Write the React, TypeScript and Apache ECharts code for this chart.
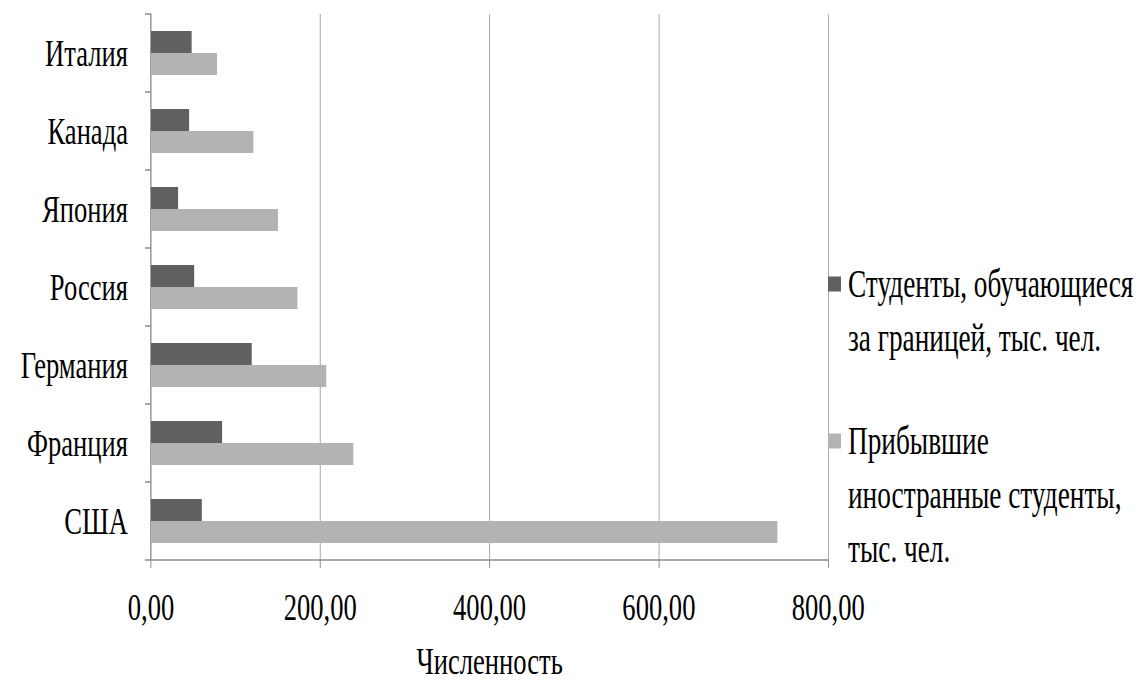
import React, { useEffect, useRef } from "react";
import * as echarts from "echarts";

const categories = ["США", "Франция", "Германия", "Россия", "Япония", "Канада", "Италия"];
const seriesNames = [
  "Студенты, обучающиеся\nза границей, тыс. чел.",
  "Прибывшие\nиностранные студенты,\nтыс. чел.",
];
const studyingAbroad = [60, 84, 119, 51, 32, 45, 48];
const arrivedForeign = [740, 239, 207, 173, 150, 121, 78];
const xTicks = { min: 0, max: 800, interval: 200 };
const axisName = "Численность";

const S = 0.7; // horizontal squeeze of the whole picture
const W = 1145 / S;
const H = 685;
const FONT = "Liberation Serif";
const LH = 54;

export default function App() {
  const ref = useRef<HTMLDivElement>(null);
  useEffect(() => {
    document.body.style.margin = "0";
    const chart = echarts.init(ref.current!, null, { renderer: "svg" });
    const textBase = { fontFamily: FONT, fontSize: 38, color: "#000" };
    const legendBase = {
      orient: "vertical",
      left: 828 / S,
      padding: 0,
      itemWidth: 13 / S,
      itemHeight: 15,
      icon: "rect",
      symbolKeepAspect: false,
      textStyle: { ...textBase, fontSize: 39, lineHeight: LH, padding: [0, 0, 0, 5] },
    };
    chart.setOption({
      animation: false,
      backgroundColor: "#fff",
      grid: { left: 151 / S, right: 317 / S, top: 14, bottom: 119, containLabel: false },
      xAxis: {
        type: "value",
        min: xTicks.min,
        max: xTicks.max,
        interval: xTicks.interval,
        name: axisName,
        nameLocation: "middle",
        nameGap: 82,
        nameMoveOverlap: false,
        nameTextStyle: { ...textBase },
        axisLine: { show: true, lineStyle: { color: "#8c8c8c", width: 1.5 } },
        axisTick: { show: true, length: 8, lineStyle: { color: "#8c8c8c", width: 1.4 } },
        axisLabel: {
          ...textBase,
          margin: 28,
          formatter: (v: number) => v.toFixed(2).replace(".", ","),
        },
        splitLine: { show: true, lineStyle: { color: "#a6a6a6", width: 1.4 } },
      },
      yAxis: {
        type: "category",
        data: categories,
        boundaryGap: true,
        axisLine: { show: true, lineStyle: { color: "#8c8c8c", width: 1.4 } },
        axisTick: { show: true, length: 6 / S, lineStyle: { color: "#8c8c8c", width: 1.5 } },
        axisLabel: { ...textBase, margin: 23 / S },
        splitLine: { show: false },
      },
      legend: [
        {
          ...legendBase,
          top: 284 - 1.5 * LH,
          data: [seriesNames[0]],
          formatter: (n: string) => "\n" + n,
        },
        {
          ...legendBase,
          top: 441 - 2.5 * LH,
          data: [seriesNames[1]],
          formatter: (n: string) => "\n\n" + n,
        },
      ],
      series: [
        {
          name: seriesNames[0],
          type: "bar",
          data: studyingAbroad,
          barWidth: 22,
          barGap: "0%",
          itemStyle: { color: "#606060" },
        },
        {
          name: seriesNames[1],
          type: "bar",
          data: arrivedForeign,
          barWidth: 22,
          barGap: "0%",
          itemStyle: { color: "#b3b3b3" },
        },
      ],
    });
    return () => chart.dispose();
  }, []);
  return (
    <div style={{ width: 1145, height: 685, overflow: "hidden", position: "relative" }}>
      <div
        ref={ref}
        style={{
          width: W,
          height: H,
          position: "absolute",
          left: 0,
          top: 0,
          transform: `scaleX(${S})`,
          transformOrigin: "0 0",
        }}
      />
    </div>
  );
}
